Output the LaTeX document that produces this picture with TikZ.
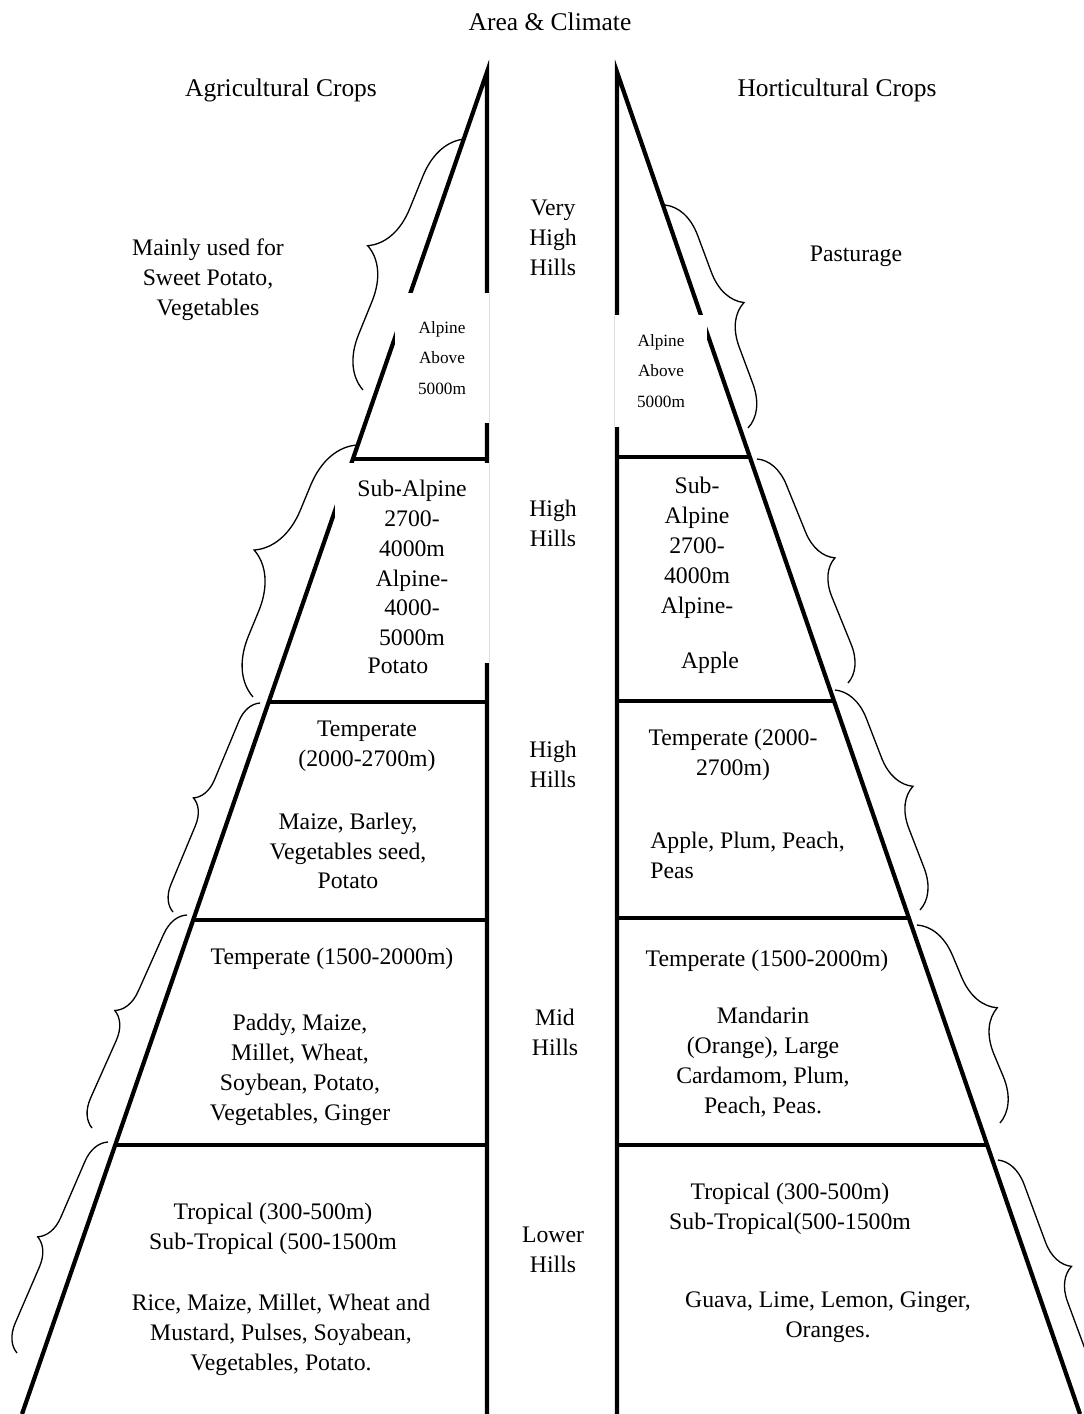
\documentclass[tikz,border=0pt]{standalone}
\usepackage{fontspec}
\setmainfont{Liberation Serif}
\usetikzlibrary{calc,decorations.pathreplacing}

\begin{document}
\begin{tikzpicture}[
  x=0.02cm, y=-0.02cm,
  wall/.style={line width=2.4pt, line join=miter},
  curly/.style={decorate, decoration={brace, amplitude=#1}, line width=0.75pt},
  head/.style={font=\fontsize{14.5}{17}\selectfont, inner sep=0pt},
  txt/.style={font=\fontsize{13.5}{17}\selectfont, align=center, inner sep=0pt},
  small/.style={font=\fontsize{9.8}{17.5}\selectfont, align=center, inner sep=0pt},
  patch/.style={fill=white, inner sep=0pt}
]
  \useasboundingbox (0,0) rectangle (1083,1414);

  % the two halves of the hill
  \coordinate (Ltop)  at (487,72);
  \coordinate (Lfoot) at (487,1414);
  \coordinate (Lbase) at (22,1414);
  \coordinate (Rtop)  at (617,72);
  \coordinate (Rfoot) at (617,1414);
  \coordinate (Rbase) at (1080,1414);

  \draw[wall] (Lbase) -- (Ltop) -- (Lfoot);
  \draw[wall] (Rbase) -- (Rtop) -- (Rfoot);

  \foreach \t in {0.2884,0.4694,0.6319,0.7996}
    \draw[wall] ($(Ltop)!\t!(Lbase)$) -- ($(Ltop)!\t!(Lfoot)$);
  \foreach \t in {0.2869,0.4687,0.6304,0.7996}
    \draw[wall] ($(Rtop)!\t!(Rfoot)$) -- ($(Rtop)!\t!(Rbase)$);

  % headings
  \node[head] (title)  at (550,22) {Area \& Climate};
  \node[head] (agri)   at (281,90) {Agricultural Crops};
  \node[head] (horti)  at (837,90) {Horticultural Crops};

  % middle column
  \node[txt] (vhigh) at (553,238)  {Very\\High\\Hills};
  \node[txt] (high1) at (553,523)  {High\\Hills};
  \node[txt] (high2) at (553,764)  {High\\Hills};
  \node[txt] (mid)   at (555,1032) {Mid\\Hills};
  \node[txt] (lower) at (553,1250) {Lower\\Hills};

  % agricultural side
  \node[txt] (Lnote) at (208,280) {Mainly used for\\Sweet Potato,\\Vegetables};
  \node[small, patch, minimum width=1.9cm, minimum height=2.6cm] (Lalp) at (442,358)
    {Alpine\\Above\\5000m};
  \node[txt, patch, minimum width=3.08cm, minimum height=4cm] (Lsub) at (412,563)
    {Sub-Alpine\\2700-\\4000m\\Alpine-\\4000-\\5000m};
  \node[txt] (Lpot)   at (398,666)  {Potato};
  \node[txt] (Ltemp1) at (367,746)  {Temperate\\(2000-2700m)};
  \node[txt] (Lcrop1) at (348,851)  {Maize, Barley,\\Vegetables seed,\\Potato};
  \node[txt] (Ltemp2) at (332,959)  {Temperate (1500-2000m)};
  \node[txt] (Lcrop2) at (300,1070) {Paddy, Maize,\\Millet, Wheat,\\Soybean, Potato,\\Vegetables, Ginger};
  \node[txt] (Ltrop)  at (273,1229) {Tropical (300-500m)\\Sub-Tropical (500-1500m};
  \node[txt] (Lcrop3) at (281,1335) {Rice, Maize, Millet, Wheat and\\Mustard, Pulses, Soyabean,\\Vegetables, Potato.};

  % horticultural side
  \node[txt] (Rnote) at (856,256) {Pasturage};
  \node[small, patch, minimum width=1.84cm, minimum height=2.24cm] (Ralp) at (661,371)
    {Alpine\\Above\\5000m};
  \node[txt] (Rsub)   at (697,548)  {Sub-\\Alpine\\2700-\\4000m\\Alpine-};
  \node[txt] (Rapple) at (710,663)  {Apple};
  \node[txt] (Rtemp1) at (733,755)  {Temperate (2000-\\2700m)};
  \node[txt, align=left, anchor=west] (Rcrop1) at (650,855) {Apple, Plum, Peach,\\Peas};
  \node[txt] (Rtemp2) at (767,961)  {Temperate (1500-2000m)};
  \node[txt] (Rcrop2) at (763,1062) {Mandarin\\(Orange), Large\\Cardamom, Plum,\\Peach, Peas.};
  \node[txt] (Rtrop)  at (790,1209) {Tropical (300-500m)\\Sub-Tropical(500-1500m};
  \node[txt] (Rcrop3) at (828,1317) {Guava, Lime, Lemon, Ginger,\\Oranges.};

  % braces
  \draw[curly=1cm]    (363,390)  -- (465,139);
  \draw[curly=1.1cm]  (253,697)  -- (357,445);
  \draw[curly=0.5cm]  (173,912)  -- (260,703);
  \draw[curly=0.54cm] (92,1128)  -- (187,915);
  \draw[curly=0.54cm] (17,1353)  -- (108,1142);

  \draw[curly=0.8cm]  (665,205)  -- (748,428);
  \draw[curly=0.7cm]  (757,459)  -- (848,683);
  \draw[curly=0.76cm] (835,690)  -- (920,910);
  \draw[curly=0.84cm] (917,925)  -- (1000,1123);
  \draw[curly=0.64cm] (998,1160) -- (1085,1395);
\end{tikzpicture}
\end{document}
